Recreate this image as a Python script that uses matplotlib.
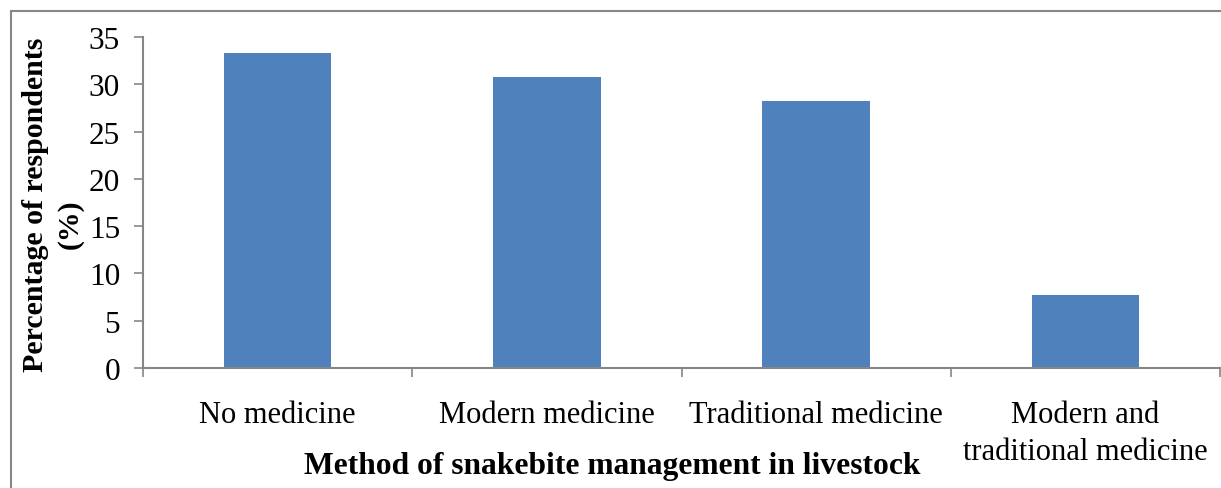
import matplotlib.pyplot as plt
from matplotlib.patches import Rectangle

# -----------------------------
# Data
# -----------------------------

categories = ["No medicine", "Modern medicine", "Traditional medicine",
              "Modern and\ntraditional medicine"]
percentages = [33.3, 30.8, 28.2, 7.7]
yticks = [0, 5, 10, 15, 20, 25, 30, 35]

# -----------------------------
# Plot
# -----------------------------

plt.rcParams["font.family"] = ["Liberation Serif", "DejaVu Serif"]

fig = plt.figure(figsize=(12.21, 4.89), dpi=100)
ax = fig.add_axes([143 / 1221, 1 - 369 / 489, 1077 / 1221, 331 / 489])

gray = "#868686"
x = range(len(categories))
ax.bar(x, percentages, width=0.40, color="#4F81BD")

ax.set_xlim(-0.5, len(categories) - 0.5)
ax.set_ylim(0, 35)
ax.set_yticks(yticks)
ax.set_xticks(x)
ax.set_xticklabels(categories, fontsize=22, linespacing=1.38)
ax.set_xticks([i - 0.5 for i in range(len(categories) + 1)], minor=True)
ax.tick_params(axis="x", which="major", length=0, pad=23)
ax.tick_params(axis="x", which="minor", length=6.5, width=1.2, color=gray)
ax.tick_params(axis="y", labelsize=22.5, length=6.5, width=1.2, color=gray, pad=10)

for side in ["top", "right"]:
    ax.spines[side].set_visible(False)
for side in ["left", "bottom"]:
    ax.spines[side].set_color(gray)
    ax.spines[side].set_linewidth(1.5)

fig.text(612 / 1221, 1 - 467 / 489, "Method of snakebite management in livestock",
         ha="center", va="center", fontsize=22.7, fontweight="bold")

# y axis title, two lines as in the original
fig.text(36 / 1221, 1 - 205 / 489, "Percentage of respondents",
         ha="center", va="center", rotation=90, fontsize=21.5, fontweight="bold")
fig.text(70 / 1221, 1 - 224 / 489, "(%)",
         ha="center", va="center", rotation=90, fontsize=21.5, fontweight="bold")

# outer chart border
fig.patches.append(Rectangle((11 / 1221, -0.1), 1.2, 1.1 - 12 / 489,
                             transform=fig.transFigure, fill=False,
                             edgecolor=gray, linewidth=1.5))

fig.savefig("out.png", dpi=100)
